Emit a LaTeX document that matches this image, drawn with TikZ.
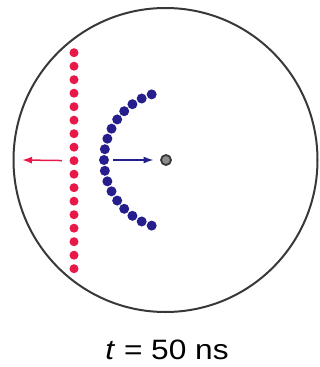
\documentclass[tikz,border=0pt]{standalone}
\usepackage{fontspec}
\setmainfont{Liberation Sans}
\usetikzlibrary{arrows.meta}
\definecolor{dotred}{RGB}{232,24,72}
\definecolor{dotblue}{RGB}{38,30,140}
\begin{document}
\begin{tikzpicture}[x=1pt,y=-1pt,>={Latex[length=10pt,width=7pt]},
rim/.style={circle,draw=black!78,line width=2pt,inner sep=0pt},
rdot/.style={circle,fill=dotred,inner sep=0pt,minimum size=9pt},
bdot/.style={circle,fill=dotblue,inner sep=0pt,minimum size=10pt},
arr/.style={->,line width=1.5pt}]
\useasboundingbox (0,0) rectangle (320,367);
\node[rim,minimum size=304pt] (cell) at (165.5,160) {};
\node[rim,fill=black!45,line width=1.8pt,minimum size=10pt] (tip) at (166,160) {};
\foreach \i in {0,...,16} \node[rdot] (r\i) at (74,{52.7+13.5*\i}) {};
\foreach \k in {0,...,16} \node[bdot] (b\k) at ({173+69*cos(108+9*\k)},{160+69*sin(108+9*\k)}) {};
\coordinate (rend) at (22,160);
\draw[arr,dotred,shorten <=7.5pt] (r8)--(rend);
\draw[arr,dotblue,shorten <=4pt,shorten >=6.5pt] (b8)--(tip);
\node[font=\fontsize{28}{32}\selectfont,xscale=1.13] (lbl) at (167,350) {\textit{t} = 50 ns};
\end{tikzpicture}
\end{document}
